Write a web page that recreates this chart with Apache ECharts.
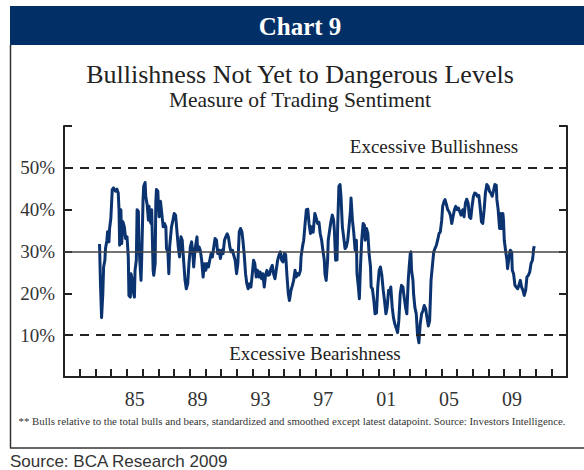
<!DOCTYPE html>
<html>
<head>
<meta charset="utf-8">
<script src="https://cdn.jsdelivr.net/npm/echarts@6/dist/echarts.min.js"></script>
<style>
html,body{margin:0;padding:0;background:#fff;}
#chart{width:584px;height:470px;}
</style>
</head>
<body>
<div id="chart"></div>
<script>
// Decimal years of each datapoint
const dates = [
1983.26,1983.32,1983.39,1983.47,1983.52,1983.60,1983.64,1983.73,1983.77,1983.86,1983.90,1983.98,
1984.07,1984.15,1984.28,1984.37,1984.45,1984.50,1984.54,1984.62,1984.67,1984.75,1984.84,1984.92,
1985.01,1985.09,1985.13,1985.22,1985.26,1985.35,1985.43,1985.48,1985.52,1985.60,1985.65,1985.73,1985.77,1985.82,1985.90,1985.94,
1986.03,1986.07,1986.16,1986.20,1986.29,1986.37,1986.41,1986.46,1986.54,1986.58,1986.63,1986.67,1986.71,1986.80,1986.84,1986.88,1986.97,
1987.01,1987.05,1987.14,1987.22,1987.31,1987.39,1987.48,1987.52,1987.61,1987.67,1987.72,1987.84,1987.93,
1988.01,1988.10,1988.18,1988.27,1988.35,1988.44,1988.52,1988.61,1988.70,1988.78,1988.87,1988.95,
1989.04,1989.12,1989.21,1989.25,1989.33,1989.46,1989.50,1989.59,1989.67,1989.76,1989.85,1989.93,
1990.02,1990.10,1990.19,1990.27,1990.36,1990.44,1990.53,1990.61,1990.70,1990.78,1990.87,1990.95,
1991.04,1991.12,1991.21,1991.29,1991.38,1991.46,1991.55,1991.63,1991.72,1991.80,1991.89,1991.98,
1992.06,1992.15,1992.23,1992.32,1992.38,1992.46,1992.55,1992.63,1992.72,1992.80,1992.89,1992.97,
1993.06,1993.14,1993.23,1993.31,1993.40,1993.48,1993.57,1993.65,1993.74,1993.82,1993.91,1993.99,
1994.08,1994.16,1994.25,1994.33,1994.42,1994.50,1994.59,1994.68,1994.76,1994.85,1994.93,
1995.02,1995.10,1995.19,1995.27,1995.34,1995.44,1995.53,1995.61,1995.70,1995.78,1995.87,1995.95,
1996.04,1996.08,1996.17,1996.25,1996.34,1996.42,1996.51,1996.59,1996.68,1996.76,1996.85,1996.96,
1997.05,1997.13,1997.22,1997.30,1997.39,1997.47,1997.56,1997.60,1997.68,1997.77,1997.81,1997.90,1997.98,
1998.07,1998.15,1998.20,1998.28,1998.37,1998.41,1998.49,1998.56,1998.62,1998.71,1998.79,1998.88,1998.96,
1999.05,1999.13,1999.22,1999.26,1999.35,1999.43,1999.52,1999.60,1999.64,1999.73,1999.79,1999.86,1999.94,
2000.03,2000.11,2000.16,2000.24,2000.33,2000.41,2000.50,2000.54,2000.62,2000.71,2000.79,2000.88,2000.96,
2001.05,2001.13,2001.22,2001.31,2001.39,2001.48,2001.56,2001.65,2001.71,2001.79,2001.88,2001.96,
2002.05,2002.13,2002.22,2002.30,2002.39,2002.47,2002.56,2002.64,2002.73,2002.81,2002.90,2002.96,
2003.03,2003.07,2003.11,2003.20,2003.24,2003.32,2003.41,2003.49,2003.58,2003.66,2003.75,2003.84,2003.92,
2004.01,2004.09,2004.18,2004.26,2004.35,2004.43,2004.52,2004.60,2004.69,2004.77,2004.86,2004.94,
2005.03,2005.09,2005.18,2005.24,2005.33,2005.41,2005.50,2005.58,2005.67,2005.75,2005.84,2005.92,
2006.01,2006.09,2006.18,2006.26,2006.37,2006.45,2006.54,2006.62,2006.71,2006.79,2006.88,2006.96,
2007.05,2007.13,2007.22,2007.30,2007.39,2007.47,2007.56,2007.64,2007.73,2007.81,2007.90,2007.98,
2008.07,2008.15,2008.24,2008.32,2008.41,2008.50,2008.54,2008.62,2008.71,2008.79,2008.84,2008.92,2008.96,
2009.01,2009.09,2009.18,2009.22,2009.30,2009.39,2009.48,2009.52,2009.60,2009.69,2009.77,2009.86,2009.94,
2010.03,2010.11,2010.20,2010.28,2010.37,2010.45,2010.54,2010.63,2010.71,2010.80,2010.84,2010.88,2010.92
];
// Bullish sentiment (%)
const sentiment = [
31.8,22.3,14.2,19.9,26.3,27.9,30.7,32.7,34.7,32.3,35.5,37.9,
44.8,45.2,44.4,44.9,44.0,40.0,31.5,40.0,31.9,37.1,35.9,33.1,
33.5,28.7,19.5,19.1,24.7,23.1,19.9,19.1,25.5,27.9,40.0,39.6,31.9,27.9,23.1,27.9,
42.4,45.6,46.5,43.2,41.2,37.5,40.8,37.5,36.7,40.0,31.9,25.5,24.3,27.1,41.6,44.8,44.4,
40.8,38.3,42.0,39.1,35.9,36.7,35.9,30.7,29.9,24.7,31.1,35.9,37.5,
39.1,38.7,35.1,31.1,28.7,33.5,32.7,27.9,23.1,21.1,22.3,27.1,
31.1,32.3,28.7,26.3,30.3,33.5,30.3,31.1,30.3,27.9,23.9,27.1,
25.5,27.1,26.3,27.9,29.5,28.7,31.1,33.1,32.7,29.5,30.3,28.3,
30.3,29.5,32.7,33.5,34.2,33.5,31.1,29.9,30.3,29.1,27.9,24.7,
27.1,34.7,35.5,34.7,32.7,29.5,24.7,22.3,21.1,22.3,21.5,24.3,
27.9,27.1,23.9,25.5,23.9,25.1,23.5,24.7,21.5,24.3,25.5,24.3,
24.5,25.9,26.7,24.7,23.5,25.5,27.9,29.1,29.9,27.9,27.5,
29.5,29.3,23.9,19.9,18.3,20.7,21.9,23.1,25.5,23.9,24.7,24.4,
25.5,28.7,31.1,32.7,36.7,40.0,40.1,36.7,34.3,35.9,34.6,39.1,
37.9,36.7,37.0,34.3,32.7,30.3,27.9,24.7,23.1,27.9,32.7,35.1,37.1,
38.7,37.5,35.1,27.9,28.0,35.9,45.6,46.0,43.2,35.9,33.5,30.7,31.1,
32.7,35.9,39.5,42.8,37.5,34.7,30.3,32.7,24.7,21.5,18.7,26.3,32.7,
36.7,36.3,32.7,35.5,34.3,29.5,26.3,21.5,21.1,18.3,15.1,15.3,21.5,
25.5,26.3,24.3,20.7,18.3,15.1,16.7,20.7,20.3,21.5,16.7,14.2,
12.6,11.8,10.6,13.4,19.9,21.9,21.5,19.1,16.7,15.1,23.1,26.3,
29.5,29.9,25.5,23.1,19.9,16.7,15.1,10.2,8.2,12.6,15.1,15.9,17.1,
16.3,14.2,12.2,13.4,23.1,26.3,29.9,30.7,31.5,32.7,34.3,34.7,
37.5,40.8,42.0,42.4,41.2,40.0,39.5,38.7,36.7,38.3,40.0,40.8,
40.0,40.4,39.5,38.7,40.0,38.3,41.6,42.5,41.6,38.3,37.9,40.8,
43.2,44.0,43.8,43.2,43.4,40.8,37.1,36.7,40.0,44.0,46.0,45.6,
44.4,44.0,43.2,44.4,46.0,45.8,42.4,40.0,35.5,39.1,35.5,39.1,37.5,
32.7,30.3,27.9,25.9,28.3,30.3,29.9,25.5,24.7,21.9,21.5,21.1,21.9,
23.1,21.5,20.7,19.5,20.7,23.9,24.3,25.1,27.1,27.9,29.1,30.7,31.3
];
// Axis definitions
const yearTicks = [1982,1983,1984,1985,1986,1987,1988,1989,1990,1991,1992,1993,1994,1995,1996,1997,1998,1999,2000,2001,2002,2003,2004,2005,2006,2007,2008,2009,2010,2011,2012];
const yearLabels = ['85','89','93','97','01','05','09'];
const yearLabelPos = [1985.5,1989.5,1993.5,1997.5,2001.5,2005.5,2009.5];
const yTickLabels = ['10%','20%','30%','40%','50%'];
const yTickValues = [10,20,30,40,50];
const bullLevel = 50, bearLevel = 10, midLevel = 30;

const serif = "'Liberation Serif', 'DejaVu Serif', serif";
const chart = echarts.init(document.getElementById('chart'), null, {renderer: 'svg'});
const lineData = dates.map((d, i) => [d, sentiment[i]]);

chart.setOption({
  animation: false,
  backgroundColor: '#fff',
  grid: {left: 64, right: 17, top: 126, bottom: 93, containLabel: false},
  xAxis: {
    type: 'value', min: 1981, max: 2013,
    axisLine: {lineStyle: {color: '#222', width: 2}},
    axisTick: {show: true, inside: true, length: 8, customValues: yearTicks, lineStyle: {color: '#222', width: 2}},
    axisLabel: {
      customValues: yearLabelPos, margin: 12,
      formatter: v => yearLabels[yearLabelPos.indexOf(v)] || '',
      fontFamily: serif, fontSize: 20, color: '#333'
    },
    splitLine: {show: false}
  },
  yAxis: [{
    type: 'value', min: 0, max: 60, interval: 10, position: 'left',
    axisLine: {show: true, lineStyle: {color: '#222', width: 2}},
    axisTick: {show: true, inside: true, length: 8, lineStyle: {color: '#222', width: 2}},
    axisLabel: {
      margin: 9, fontFamily: serif, fontSize: 19, color: '#333',
      formatter: v => { const k = yTickValues.indexOf(v); return k >= 0 ? yTickLabels[k] : ''; }
    },
    splitLine: {show: false}
  }, {
    type: 'value', min: 0, max: 60, interval: 10, position: 'right',
    axisLine: {show: true, lineStyle: {color: '#222', width: 2}},
    axisTick: {show: true, inside: true, length: 8, lineStyle: {color: '#222', width: 2}},
    axisLabel: {show: false},
    splitLine: {show: false}
  }],
  series: [{
    type: 'line', data: [], z: 1, silent: true,
    markLine: {
      silent: true, symbol: 'none', label: {show: false},
      data: [
        {yAxis: bullLevel, lineStyle: {type: [9, 7], color: '#222', width: 2.2}},
        {yAxis: bearLevel, lineStyle: {type: [9, 7], color: '#222', width: 2.2}},
        {yAxis: midLevel, lineStyle: {type: 'solid', color: '#444', width: 1.5}}
      ]
    }
  }, {
    type: 'line', data: lineData, z: 3, showSymbol: false, symbol: 'none',
    lineStyle: {color: '#0b3370', width: 3, join: 'round'}
  }],
  graphic: [
    {type: 'rect', shape: {x: 10, y: 6, width: 574, height: 39}, style: {fill: '#022f66'}},
    {type: 'text', x: 300, y: 26, style: {text: 'Chart 9', fill: '#fff', font: "bold 25px 'Liberation Serif', serif", align: 'center', verticalAlign: 'middle'}},
    {type: 'line', shape: {x1: 10.5, y1: 45, x2: 10.5, y2: 448}, style: {stroke: '#333', lineWidth: 1.5}},
    {type: 'line', shape: {x1: 10, y1: 448, x2: 584, y2: 448}, style: {stroke: '#333', lineWidth: 1.5}},
    {type: 'text', x: 300, y: 74, style: {text: 'Bullishness Not Yet to Dangerous Levels', fill: '#222', font: "26px 'Liberation Serif', serif", align: 'center', verticalAlign: 'middle'}},
    {type: 'text', x: 300, y: 100, style: {text: 'Measure of Trading Sentiment', fill: '#222', font: "21.5px 'Liberation Serif', serif", align: 'center', verticalAlign: 'middle'}},
    {type: 'text', x: 434, y: 146, style: {text: 'Excessive Bullishness', fill: '#222', font: "19px 'Liberation Serif', serif", align: 'center', verticalAlign: 'middle'}},
    {type: 'text', x: 315, y: 353, style: {text: 'Excessive Bearishness', fill: '#222', font: "19px 'Liberation Serif', serif", align: 'center', verticalAlign: 'middle'}},
    {type: 'text', x: 292, y: 421, style: {text: '** Bulls relative to the total bulls and bears, standardized and smoothed except latest datapoint. Source: Investors Intelligence.', fill: '#333', font: "10.8px 'Liberation Serif', serif", align: 'center', verticalAlign: 'middle'}},
    {type: 'text', x: 10, y: 461, style: {text: 'Source: BCA Research 2009', fill: '#333', font: "17px 'Liberation Sans', 'Open Sans', sans-serif", align: 'left', verticalAlign: 'middle'}}
  ]
});
</script>
</body>
</html>
